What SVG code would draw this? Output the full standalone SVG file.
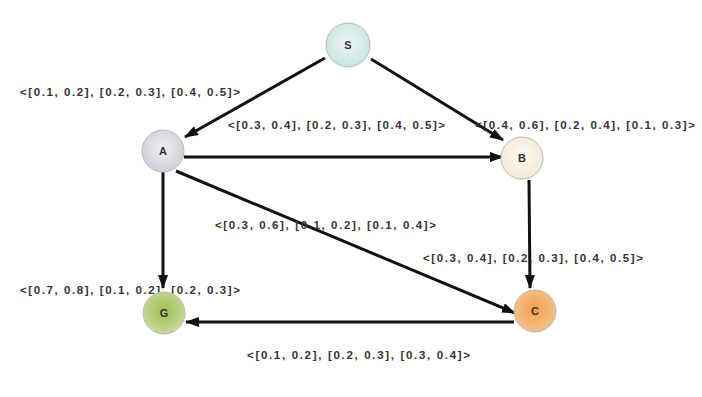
<svg xmlns="http://www.w3.org/2000/svg" width="702" height="397" viewBox="0 0 702 397">
<style>
.edge{stroke:#111;stroke-width:3;fill:none;marker-end:url(#ah)}
.lbl{font-family:"Liberation Sans",Arial,sans-serif;font-size:11.5px;fill:#333;font-weight:bold}
.nl{font-family:"Liberation Sans",Arial,sans-serif;font-size:11px;fill:#333;text-anchor:middle;font-weight:bold}
.node{stroke:#bbb;stroke-width:1}
</style>
<defs>
<marker id="ah" markerWidth="14" markerHeight="10" refX="13" refY="5" orient="auto" markerUnits="userSpaceOnUse">
<path d="M0,0 L14,5 L0,10 Z" fill="#111"/>
</marker>
<radialGradient id="gS" cx="50%" cy="45%" r="55%"><stop offset="0" stop-color="#eef6f6"/><stop offset="1" stop-color="#c6e4e2"/></radialGradient>
<radialGradient id="gA" cx="50%" cy="45%" r="55%"><stop offset="0" stop-color="#eeeef2"/><stop offset="1" stop-color="#cfcfd8"/></radialGradient>
<radialGradient id="gB" cx="50%" cy="45%" r="55%"><stop offset="0" stop-color="#fdfaf2"/><stop offset="1" stop-color="#f3ead6"/></radialGradient>
<radialGradient id="gC" cx="50%" cy="45%" r="55%"><stop offset="0" stop-color="#f2a250"/><stop offset="1" stop-color="#f6c08a"/></radialGradient>
<radialGradient id="gG" cx="50%" cy="45%" r="55%"><stop offset="0" stop-color="#9ebe50"/><stop offset="1" stop-color="#c6da98"/></radialGradient>
</defs>
<rect width="702" height="397" fill="#fff"/>
<g id="connectors">
<line class="edge" x1="325" y1="58" x2="185" y2="137"/>
<line class="edge" x1="371" y1="59" x2="503" y2="140"/>
<line class="edge" x1="184" y1="157" x2="503" y2="157"/>
<line class="edge" x1="163" y1="172" x2="163" y2="288"/>
<line class="edge" x1="176" y1="171" x2="515" y2="313"/>
<line class="edge" x1="529" y1="180" x2="530" y2="288"/>
<line class="edge" x1="514" y1="322" x2="186" y2="322"/>
</g>
<g id="edge-labels">
<text class="lbl" x="20" y="96" textLength="220" lengthAdjust="spacing">&lt;[0.1, 0.2], [0.2, 0.3], [0.4, 0.5]&gt;</text>
<text class="lbl" x="228" y="129" textLength="217" lengthAdjust="spacing">&lt;[0.3, 0.4], [0.2, 0.3], [0.4, 0.5]&gt;</text>
<text class="lbl" x="475" y="129" textLength="220" lengthAdjust="spacing">&lt;[0.4, 0.6], [0.2, 0.4], [0.1, 0.3]&gt;</text>
<text class="lbl" x="215" y="229" textLength="221" lengthAdjust="spacing">&lt;[0.3, 0.6], [0.1, 0.2], [0.1, 0.4]&gt;</text>
<text class="lbl" x="423" y="262" textLength="220" lengthAdjust="spacing">&lt;[0.3, 0.4], [0.2, 0.3], [0.4, 0.5]&gt;</text>
<text class="lbl" x="20" y="294" textLength="220" lengthAdjust="spacing">&lt;[0.7, 0.8], [0.1, 0.2], [0.2, 0.3]&gt;</text>
<text class="lbl" x="247" y="359" textLength="223" lengthAdjust="spacing">&lt;[0.1, 0.2], [0.2, 0.3], [0.3, 0.4]&gt;</text>
</g>
<g id="S"><circle class="node" cx="348" cy="45" r="22" fill="url(#gS)"/><text class="nl" x="348" y="49">S</text></g>
<g id="A"><circle class="node" cx="163" cy="151" r="21" fill="url(#gA)"/><text class="nl" x="163" y="155">A</text></g>
<g id="B"><circle class="node" cx="522" cy="158" r="21" fill="url(#gB)" stroke="#eee"/><text class="nl" x="522" y="162">B</text></g>
<g id="C"><circle class="node" cx="535" cy="311" r="21" fill="url(#gC)" stroke="#e8a060"/><text class="nl" x="535" y="315">C</text></g>
<g id="G"><circle class="node" cx="164" cy="313" r="21" fill="url(#gG)" stroke="#a8c070"/><text class="nl" x="164" y="317">G</text></g>
</svg>
